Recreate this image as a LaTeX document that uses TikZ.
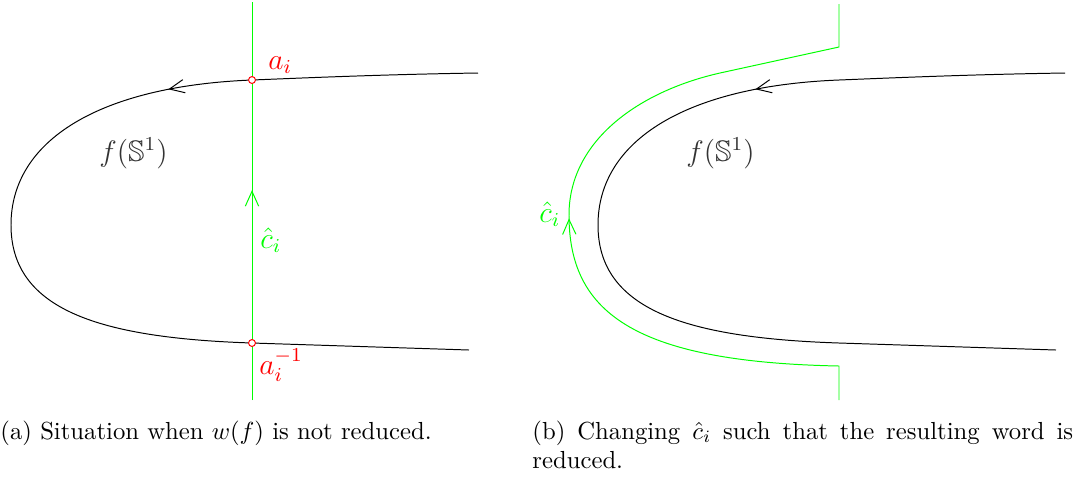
\documentclass[tikz,border=0pt]{standalone}
\usepackage{amssymb}
\usetikzlibrary{arrows.meta,decorations.markings}

\begin{document}
\begin{tikzpicture}[
  x=0.405pt, y=-0.405pt,
  curve/.style={draw=black, line width=0.4pt},
  loopc/.style={draw=green, line width=0.4pt},
  hit/.style={circle, draw=red, fill=white, line width=0.4pt, inner sep=0pt, minimum size=2.8pt},
  lbl/.style={font=\large, inner sep=0pt, anchor=base west},
  capt/.style={inner sep=0pt, anchor=base west},
  tipat/.style={postaction={decorate}, decoration={markings, mark=at position #1 with {\arrow{Straight Barb[length=6pt,width=5.4pt]}}}}
]
  \useasboundingbox (0,0) rectangle (1075,478);

  % (a) the image of the circle and the straight path
  \draw[curve, tipat=125.7pt] (478,73) .. controls (380,74.5) and (300,78.1) .. (252,80)
    .. controls (100,86) and (11,140) .. (11,225)
    .. controls (11,310) and (100,338) .. (252,343) -- (469,350);
  \draw[loopc, tipat=85pt] (252,400) -- (252,2);
  \node[hit] (ai) at (252,80) {};
  \node[hit] (aiinv) at (252,343) {};
  \node[lbl, text=red] (la) at (268,69) {$a_i$};
  \node[lbl, text=red] (lainv) at (259,374) {$a_i^{-1}$};
  \node[lbl, text=green] (lc) at (260,248) {$\hat{c}_i$};
  \node[lbl, text=black!80] (lf) at (99,161) {$f(\mathbb{S}^1)$};

  % (b) same curve, path pushed round it
  \begin{scope}[shift={(587,0)}]
    \draw[curve, tipat=125.7pt] (478,73) .. controls (380,74.5) and (300,78.1) .. (252,80)
      .. controls (100,86) and (11,140) .. (11,225)
      .. controls (11,310) and (100,338) .. (252,343) -- (469,350);
    \node[lbl, text=black!80] (rf) at (99,161) {$f(\mathbb{S}^1)$};
  \end{scope}
  \draw[loopc, tipat=153.9pt] (839,400) -- (839,366)
    .. controls (630,362) and (569,310) .. (569,215)
    .. controls (569,140) and (640,91) .. (720,73) -- (839,47) -- (839,4);
  \node[lbl, text=green] (rc) at (539,222) {$\hat{c}_i$};

  % captions
  \node[capt] (capa) at (0,439) {(a) Situation when $w(f)$ is not reduced.};
  \node[capt, text width=219pt, align=justify] (capb) at (532,439)
    {(b) Changing $\hat{c}_i$ such that the resulting word is reduced.};
\end{tikzpicture}
\end{document}
